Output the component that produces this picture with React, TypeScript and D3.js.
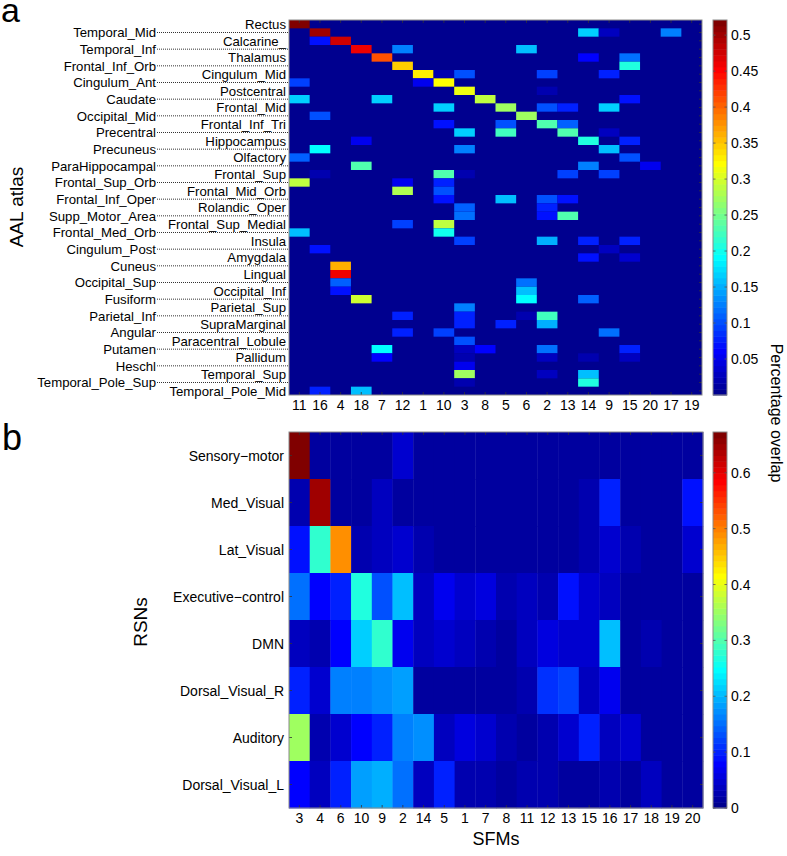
import React from 'react';
import * as d3 from 'd3';

// ---------- DATA ----------
const aalRegions = [
  'Rectus', 'Temporal_Mid', 'Calcarine_', 'Temporal_Inf', 'Thalamus', 'Frontal_Inf_Orb',
  'Cingulum_Mid', 'Cingulum_Ant', 'Postcentral', 'Caudate', 'Frontal_Mid', 'Occipital_Mid',
  'Frontal_Inf_Tri', 'Precentral', 'Hippocampus', 'Precuneus', 'Olfactory', 'ParaHippocampal',
  'Frontal_Sup', 'Frontal_Sup_Orb', 'Frontal_Mid_Orb', 'Frontal_Inf_Oper', 'Rolandic_Oper',
  'Supp_Motor_Area', 'Frontal_Sup_Medial', 'Frontal_Med_Orb', 'Insula', 'Cingulum_Post',
  'Amygdala', 'Cuneus', 'Lingual', 'Occipital_Sup', 'Occipital_Inf', 'Fusiform', 'Parietal_Sup',
  'Parietal_Inf', 'SupraMarginal', 'Angular', 'Paracentral_Lobule', 'Putamen', 'Pallidum',
  'Heschl', 'Temporal_Sup', 'Temporal_Pole_Sup', 'Temporal_Pole_Mid',
];
const aalSfmOrder = ['11', '16', '4', '18', '7', '12', '1', '10', '3', '8', '5', '6', '2', '13', '14', '9', '15', '20', '17', '19'];

// [region row, SFM column, overlap]; all other cells are 0
const aalOverlap: [number, number, number][] = [
  [0, 0, 0.52],
  [1, 1, 0.50], [1, 14, 0.17], [1, 15, 0.03], [1, 18, 0.13],
  [2, 1, 0.07], [2, 2, 0.48],
  [3, 3, 0.46], [3, 5, 0.13], [3, 11, 0.16],
  [4, 4, 0.41], [4, 14, 0.06], [4, 16, 0.12],
  [5, 5, 0.35], [5, 16, 0.21],
  [6, 6, 0.33], [6, 7, 0.02], [6, 8, 0.10], [6, 12, 0.09], [6, 15, 0.08],
  [7, 0, 0.09], [7, 6, 0.05], [7, 7, 0.32],
  [8, 8, 0.31], [8, 12, 0.02],
  [9, 0, 0.17], [9, 4, 0.17], [9, 9, 0.29], [9, 16, 0.07],
  [10, 7, 0.17], [10, 10, 0.27], [10, 12, 0.10], [10, 13, 0.08], [10, 15, 0.17],
  [11, 1, 0.10], [11, 11, 0.27],
  [12, 7, 0.07], [12, 10, 0.10], [12, 12, 0.23], [12, 13, 0.11],
  [13, 8, 0.17], [13, 10, 0.22], [13, 13, 0.23], [13, 15, 0.03],
  [14, 3, 0.05], [14, 14, 0.21], [14, 16, 0.08],
  [15, 1, 0.19], [15, 8, 0.13], [15, 15, 0.16],
  [16, 0, 0.11], [16, 16, 0.10],
  [17, 3, 0.23], [17, 14, 0.13], [17, 17, 0.05],
  [18, 1, 0.02], [18, 7, 0.23], [18, 8, 0.02], [18, 13, 0.09], [18, 15, 0.09],
  [19, 0, 0.29], [19, 5, 0.05], [19, 7, 0.08],
  [20, 5, 0.28], [20, 7, 0.10],
  [21, 7, 0.07], [21, 10, 0.16], [21, 12, 0.10], [21, 13, 0.07],
  [22, 8, 0.11], [22, 12, 0.08],
  [23, 8, 0.12], [23, 12, 0.07], [23, 13, 0.23],
  [24, 5, 0.09], [24, 7, 0.29],
  [25, 0, 0.16], [25, 7, 0.20],
  [26, 8, 0.09], [26, 12, 0.15], [26, 14, 0.08], [26, 16, 0.08],
  [27, 1, 0.07], [27, 15, 0.03],
  [28, 14, 0.07], [28, 16, 0.04],
  [29, 2, 0.36],
  [30, 2, 0.46],
  [31, 2, 0.11], [31, 11, 0.12],
  [32, 2, 0.07], [32, 11, 0.16],
  [33, 3, 0.30], [33, 11, 0.19], [33, 14, 0.11],
  [34, 8, 0.13],
  [35, 5, 0.08], [35, 8, 0.08], [35, 11, 0.02], [35, 12, 0.22],
  [36, 8, 0.08], [36, 10, 0.08], [36, 12, 0.15],
  [37, 5, 0.08], [37, 7, 0.09], [37, 15, 0.12],
  [38, 8, 0.10],
  [39, 4, 0.19], [39, 8, 0.03], [39, 9, 0.06], [39, 12, 0.12], [39, 16, 0.08],
  [40, 4, 0.06], [40, 8, 0.02], [40, 12, 0.03], [40, 14, 0.02], [40, 16, 0.03],
  [41, 8, 0.05],
  [42, 8, 0.27], [42, 12, 0.03], [42, 14, 0.16],
  [43, 8, 0.02], [43, 14, 0.21],
  [44, 1, 0.08], [44, 3, 0.16],
];

const rsnNames = ['Sensory\u2212motor', 'Med_Visual', 'Lat_Visual', 'Executive\u2212control', 'DMN', 'Dorsal_Visual_R', 'Auditory', 'Dorsal_Visual_L'];
const rsnSfmOrder = ['3', '4', '6', '10', '9', '2', '14', '5', '1', '7', '8', '11', '12', '13', '15', '16', '17', '18', '19', '20'];

const sensoryMotor = [0.67, 0.02, 0.02, 0.02, 0.02, 0.05, 0.02, 0.02, 0.02, 0.02, 0.02, 0.02, 0.02, 0.02, 0.02, 0.02, 0.02, 0.02, 0.02, 0.02];
const medVisual = [0.03, 0.65, 0.02, 0.02, 0.04, 0.02, 0.02, 0.02, 0.02, 0.02, 0.02, 0.02, 0.02, 0.02, 0.03, 0.10, 0.02, 0.02, 0.02, 0.09];
const latVisual = [0.09, 0.28, 0.49, 0.03, 0.04, 0.05, 0.03, 0.02, 0.02, 0.02, 0.02, 0.02, 0.02, 0.02, 0.03, 0.05, 0.03, 0.02, 0.02, 0.05];
const executiveControl = [0.15, 0.08, 0.10, 0.27, 0.13, 0.20, 0.04, 0.07, 0.05, 0.06, 0.03, 0.04, 0.03, 0.09, 0.05, 0.04, 0.02, 0.02, 0.02, 0.02];
const dmn = [0.04, 0.03, 0.08, 0.22, 0.28, 0.07, 0.04, 0.05, 0.04, 0.03, 0.02, 0.04, 0.06, 0.05, 0.05, 0.21, 0.02, 0.03, 0.02, 0.02];
const dorsalVisualR = [0.10, 0.05, 0.16, 0.16, 0.17, 0.18, 0.02, 0.02, 0.02, 0.02, 0.02, 0.03, 0.11, 0.12, 0.04, 0.07, 0.02, 0.02, 0.02, 0.02];
const auditory = [0.35, 0.03, 0.05, 0.08, 0.10, 0.16, 0.17, 0.04, 0.06, 0.05, 0.03, 0.02, 0.03, 0.05, 0.10, 0.04, 0.05, 0.02, 0.02, 0.02];
const dorsalVisualL = [0.08, 0.04, 0.10, 0.18, 0.19, 0.15, 0.04, 0.10, 0.03, 0.03, 0.02, 0.03, 0.03, 0.02, 0.02, 0.03, 0.02, 0.04, 0.02, 0.02];
const rsnOverlap = [sensoryMotor, medVisual, latVisual, executiveControl, dmn, dorsalVisualR, auditory, dorsalVisualL];

const aalColorTicks = [0.05, 0.1, 0.15, 0.2, 0.25, 0.3, 0.35, 0.4, 0.45, 0.5];
const rsnColorTicks = [0, 0.1, 0.2, 0.3, 0.4, 0.5, 0.6];
const aalMax = 0.521;
const rsnMax = 0.673;

// ---------- MATLAB jet(64) ----------
function jetMap(m: number): string[] {
  const n = Math.ceil(m / 4);
  const u: number[] = [];
  for (let i = 1; i <= n; i++) u.push(i / n);
  for (let i = 1; i < n; i++) u.push(1);
  for (let i = n; i >= 1; i--) u.push(i / n);
  const g0 = Math.ceil(n / 2) - (m % 4 === 1 ? 1 : 0);
  const J = Array.from({ length: m }, () => [0, 0, 0]);
  u.forEach((val, idx) => {
    const g = g0 + idx + 1;
    const r = g + n;
    const b = g - n;
    if (r >= 1 && r <= m) J[r - 1][0] = val;
    if (g >= 1 && g <= m) J[g - 1][1] = val;
    if (b >= 1 && b <= m) J[b - 1][2] = val;
  });
  return J.map(([r, g, b]) => d3.rgb(r * 255, g * 255, b * 255).formatHex());
}
const JET = jetMap(64);
const jetColor = (v: number, max: number) => {
  const k = Math.max(0, Math.min(63, Math.floor((v / max) * 64)));
  return JET[k];
};

const FONT = '"Liberation Sans", Arial, Helvetica, sans-serif';

export default function App() {
  // panel a geometry
  const aL = 289, aR = 702, aT = 20, aB = 395;
  const xA = d3.scaleBand<string>().domain(aalSfmOrder).range([aL, aR]);
  const yA = d3.scaleBand<number>().domain(aalRegions.map((_, i) => i)).range([aT, aB]);
  const cA = d3.scaleLinear().domain([0, aalMax]).range([aB, aT]);

  // panel b geometry
  const bL = 289, bR = 703, bT = 432, bB = 808;
  const xB = d3.scaleBand<string>().domain(rsnSfmOrder).range([bL, bR]);
  const yB = d3.scaleBand<string>().domain(rsnNames).range([bT, bB]);
  const cB = d3.scaleLinear().domain([0, rsnMax]).range([bB, bT]);

  const cbL = 713, cbW = 14;
  const levels = d3.range(64);
  const tickLen = 3;

  return (
    <svg width={787} height={856} style={{ position: 'absolute', left: 0, top: 0, background: '#fff' }} fontFamily={FONT}>
      <rect x={0} y={0} width={787} height={856} fill="#fff" />
      {/* panel letters */}
      <text x={1} y={22} fontSize={34}>a</text>
      <text x={2} y={450} fontSize={36}>b</text>

      {/* ===== Panel a ===== */}
      <rect x={aL} y={aT} width={aR - aL} height={aB - aT} fill={JET[0]} />
      {aalOverlap.map(([r, c, v], i) => (
        <rect key={i} x={xA(aalSfmOrder[c])} y={yA(r)} width={xA.bandwidth()} height={yA.bandwidth()} fill={jetColor(v, aalMax)} />
      ))}
      {/* ticks */}
      {aalSfmOrder.map((s) => {
        const x = (xA(s) as number) + xA.bandwidth() / 2;
        return (
          <g key={'ta' + s} stroke="#333" strokeWidth={0.8}>
            <line x1={x} x2={x} y1={aT} y2={aT + tickLen} />
            <line x1={x} x2={x} y1={aB} y2={aB - tickLen} />
          </g>
        );
      })}
      {aalRegions.map((_, i) => {
        const y = (yA(i) as number) + yA.bandwidth() / 2;
        return (
          <g key={'tr' + i} stroke="#333" strokeWidth={0.8}>
            <line x1={aR} x2={aR - tickLen} y1={y} y2={y} />
          </g>
        );
      })}
      <rect x={aL} y={aT} width={aR - aL} height={aB - aT} fill="none" stroke="#8a8a8a" strokeWidth={1} />
      {/* y labels */}
      {aalRegions.map((name, i) => {
        const y = (yA(i) as number) + yA.bandwidth() / 2;
        if (i % 2 === 0) {
          return (
            <text key={name} x={286} y={y} dy="0.36em" textAnchor="end" fontSize={13.2}>{name}</text>
          );
        }
        return (
          <g key={name}>
            <line x1={157} x2={aL} y1={y} y2={y} stroke="#333" strokeWidth={1} strokeDasharray="1,1" />
            <text x={156} y={y} dy="0.36em" textAnchor="end" fontSize={13.2}>{name}</text>
          </g>
        );
      })}
      {/* x labels */}
      {aalSfmOrder.map((s) => (
        <text key={'xa' + s} x={(xA(s) as number) + xA.bandwidth() / 2} y={410} textAnchor="middle" fontSize={14}>{s}</text>
      ))}
      <text transform={`translate(23,207) rotate(-90)`} textAnchor="middle" fontSize={19}>AAL atlas</text>

      {/* colorbar a */}
      {levels.map((k) => (
        <rect key={'cba' + k} x={cbL} y={cA(((k + 1) * aalMax) / 64)} width={cbW} height={cA((k * aalMax) / 64) - cA(((k + 1) * aalMax) / 64) + 0.5} fill={JET[k]} />
      ))}
      <rect x={cbL} y={aT} width={cbW} height={aB - aT} fill="none" stroke="#8a8a8a" strokeWidth={1} />
      {aalColorTicks.map((t) => (
        <g key={'cta' + t}>
          <line x1={cbL} x2={cbL + 2.5} y1={cA(t)} y2={cA(t)} stroke="#555" strokeWidth={0.8} />
          <line x1={cbL + cbW} x2={cbL + cbW - 2.5} y1={cA(t)} y2={cA(t)} stroke="#555" strokeWidth={0.8} />
          <text x={731} y={cA(t)} dy="0.36em" fontSize={14}>{String(t)}</text>
        </g>
      ))}

      {/* ===== Panel b ===== */}
      {rsnOverlap.map((row, r) =>
        row.map((v, c) => (
          <rect key={`b${r}-${c}`} x={xB(rsnSfmOrder[c])} y={yB(rsnNames[r])} width={xB.bandwidth() + 0.4} height={yB.bandwidth() + 0.4} fill={jetColor(v, rsnMax)} />
        ))
      )}
      {rsnSfmOrder.map((s) => {
        const x = (xB(s) as number) + xB.bandwidth() / 2;
        return (
          <g key={'tb' + s} stroke="#333" strokeWidth={0.8}>
            <line x1={x} x2={x} y1={bT} y2={bT + tickLen} />
            <line x1={x} x2={x} y1={bB} y2={bB - tickLen} />
          </g>
        );
      })}
      {rsnNames.map((n) => {
        const y = (yB(n) as number) + yB.bandwidth() / 2;
        return (
          <g key={'tbr' + n} stroke="#333" strokeWidth={0.8}>
            <line x1={bL} x2={bL + tickLen} y1={y} y2={y} />
            <line x1={bR} x2={bR - tickLen} y1={y} y2={y} />
          </g>
        );
      })}
      <rect x={bL} y={bT} width={bR - bL} height={bB - bT} fill="none" stroke="#8a8a8a" strokeWidth={1} />
      {rsnNames.map((n) => (
        <text key={'yb' + n} x={284} y={(yB(n) as number) + yB.bandwidth() / 2} dy="0.36em" textAnchor="end" fontSize={14}>{n}</text>
      ))}
      {rsnSfmOrder.map((s) => (
        <text key={'xb' + s} x={(xB(s) as number) + xB.bandwidth() / 2} y={823} textAnchor="middle" fontSize={14}>{s}</text>
      ))}
      <text transform={`translate(147,622) rotate(-90)`} textAnchor="middle" fontSize={19}>RSNs</text>
      <text x={496} y={845} textAnchor="middle" fontSize={18}>SFMs</text>

      {/* colorbar b */}
      {levels.map((k) => (
        <rect key={'cbb' + k} x={cbL} y={cB(((k + 1) * rsnMax) / 64)} width={cbW} height={cB((k * rsnMax) / 64) - cB(((k + 1) * rsnMax) / 64) + 0.5} fill={JET[k]} />
      ))}
      <rect x={cbL} y={bT} width={cbW} height={bB - bT} fill="none" stroke="#8a8a8a" strokeWidth={1} />
      {rsnColorTicks.map((t) => (
        <g key={'ctb' + t}>
          <line x1={cbL} x2={cbL + 2.5} y1={cB(t)} y2={cB(t)} stroke="#555" strokeWidth={0.8} />
          <line x1={cbL + cbW} x2={cbL + cbW - 2.5} y1={cB(t)} y2={cB(t)} stroke="#555" strokeWidth={0.8} />
          <text x={731} y={cB(t)} dy="0.36em" fontSize={14}>{String(t)}</text>
        </g>
      ))}

      <text transform={`translate(771,413) rotate(90)`} textAnchor="middle" fontSize={16}>Percentage overlap</text>
    </svg>
  );
}
